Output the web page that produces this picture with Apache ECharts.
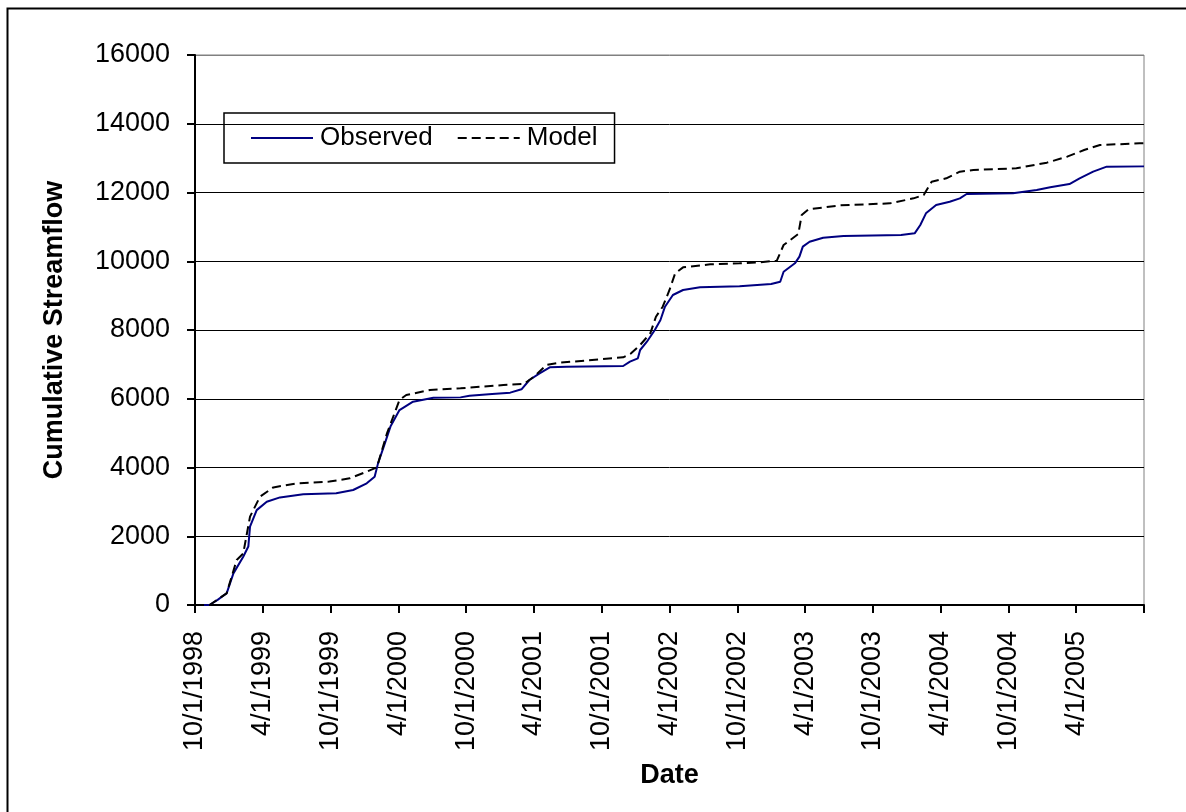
<!DOCTYPE html>
<html>
<head>
<meta charset="utf-8">
<script src="https://cdn.jsdelivr.net/npm/echarts@6/dist/echarts.min.js"></script>
<style>
html,body{margin:0;padding:0;background:#fff;}
#chart{width:1186px;height:812px;}
</style>
</head>
<body>
<div id="chart"></div>
<script>
// x values are months elapsed since 10/1/1998
const xTickLabels = ['10/1/1998','4/1/1999','10/1/1999','4/1/2000','10/1/2000','4/1/2001','10/1/2001','4/1/2002','10/1/2002','4/1/2003','10/1/2003','4/1/2004','10/1/2004','4/1/2005',''];

const obsMonths = [0,1.27,2.0,2.8,3.4,4.27,4.72,4.87,5.46,6.35,7.52,9.58,12.5,14.0,15.2,15.9,16.2,16.7,17.3,18.1,19.3,21.1,23.5,24.3,26.3,27.9,28.9,29.6,30.5,31.4,32.9,37.9,38.5,39.2,39.4,40.0,40.7,41.2,41.6,42.3,43.2,44.7,48.2,51.0,51.8,52.1,53.1,53.5,53.8,54.4,55.6,57.4,62.5,63.7,64.2,64.7,65.6,66.8,67.7,68.3,72.4,74.5,75.7,77.4,78.3,79.5,80.7,84.0];
const obsValues = [0,0,150,340,920,1405,1700,2280,2760,3005,3130,3220,3250,3345,3540,3730,4120,4600,5190,5670,5915,6030,6040,6089,6138,6177,6274,6545,6740,6914,6934,6952,7079,7176,7418,7660,8000,8290,8678,9018,9164,9242,9275,9338,9405,9696,9940,10133,10424,10569,10686,10735,10764,10812,11054,11394,11636,11733,11830,11956,11976,12073,12150,12247,12413,12607,12752,12760];

const modMonths = [0,1.3,2.8,3.69,4.27,4.87,5.75,6.93,9.0,11.9,13.7,15.2,16.1,17.0,18.1,18.7,20.8,23.5,27.3,29.1,30.0,31.1,32.3,37.9,38.6,39.4,40.3,40.8,41.4,42.0,42.5,43.2,45.6,48.2,50.0,51.5,52.1,53.4,53.7,54.3,57.1,61.5,63.6,64.5,65.2,66.5,67.7,68.9,72.7,75.4,77.2,78.7,80.1,83.6,84.0];
const modValues = [0,0,340,1310,1500,2570,3150,3420,3540,3590,3685,3880,4006,5000,5964,6109,6255,6303,6400,6429,6642,6982,7049,7205,7321,7564,7903,8387,8678,9164,9648,9823,9910,9940,9968,10017,10473,10793,11345,11510,11626,11684,11830,11927,12315,12413,12607,12655,12703,12868,13042,13236,13382,13430,13435];

const FONT = "'Liberation Sans', Arial, sans-serif";
const obsData = obsMonths.map((m, i) => [m, obsValues[i]]);
const modData = modMonths.map((m, i) => [m, modValues[i]]);

const chart = echarts.init(document.getElementById('chart'), null, {renderer: 'canvas'});
chart.setOption({
  animation: false,
  backgroundColor: '#ffffff',
  graphic: [{
    type: 'rect', left: 5, top: 6, z: 100, silent: true,
    shape: {width: 1200, height: 820},
    style: {fill: 'none', stroke: '#000', lineWidth: 2}
  }],
  grid: {left: 195, right: 42, top: 55, bottom: 207, show: true, borderColor: '#808080', borderWidth: 1, backgroundColor: 'transparent'},
  legend: {
    left: 224, top: 113,
    orient: 'horizontal',
    padding: [12, 17, 12, 26],
    borderColor: '#000', borderWidth: 1.5,
    itemWidth: 62, itemHeight: 26, itemGap: 24,
    itemStyle: {opacity: 0},
    textStyle: {fontFamily: FONT, fontSize: 26, color: '#000', padding: [0, 0, 0, 2]},
    data: ['Observed', 'Model']
  },
  xAxis: {
    type: 'value', min: 0, max: 84, interval: 6,
    name: 'Date', nameLocation: 'middle', nameGap: 157,
    nameTextStyle: {fontFamily: FONT, fontSize: 27, fontWeight: 'bold', color: '#000'},
    axisLine: {lineStyle: {color: '#000', width: 2}},
    axisTick: {show: true, length: 8, lineStyle: {color: '#000', width: 2}},
    axisLabel: {
      rotate: 90, margin: 26, fontFamily: FONT, fontSize: 27, color: '#000',
      formatter: v => xTickLabels[Math.round(v / 6)] || ''
    },
    splitLine: {show: false}
  },
  yAxis: {
    type: 'value', min: 0, max: 16000, interval: 2000,
    name: 'Cumulative Streamflow', nameLocation: 'middle', nameGap: 127,
    nameTextStyle: {fontFamily: FONT, fontSize: 27, fontWeight: 'bold', color: '#000'},
    axisLine: {show: true, lineStyle: {color: '#000', width: 2}},
    axisTick: {show: true, length: 8, lineStyle: {color: '#000', width: 2}},
    axisLabel: {margin: 25, fontFamily: FONT, fontSize: 27, color: '#000', formatter: v => String(v)},
    splitLine: {show: true, lineStyle: {color: ['#000','#000','#000','#000','#000','#000','#000','#000','#808080'], width: 1}}
  },
  series: [
    {
      name: 'Observed', type: 'line', data: obsData, symbol: 'none', showSymbol: false, z: 3,
      lineStyle: {color: '#000080', width: 2},
      itemStyle: {color: '#000080'}
    },
    {
      name: 'Model', type: 'line', data: modData, symbol: 'none', showSymbol: false, z: 4,
      lineStyle: {color: '#000', width: 2, type: [9, 5]},
      itemStyle: {color: '#000'}
    }
  ]
});
</script>
</body>
</html>
